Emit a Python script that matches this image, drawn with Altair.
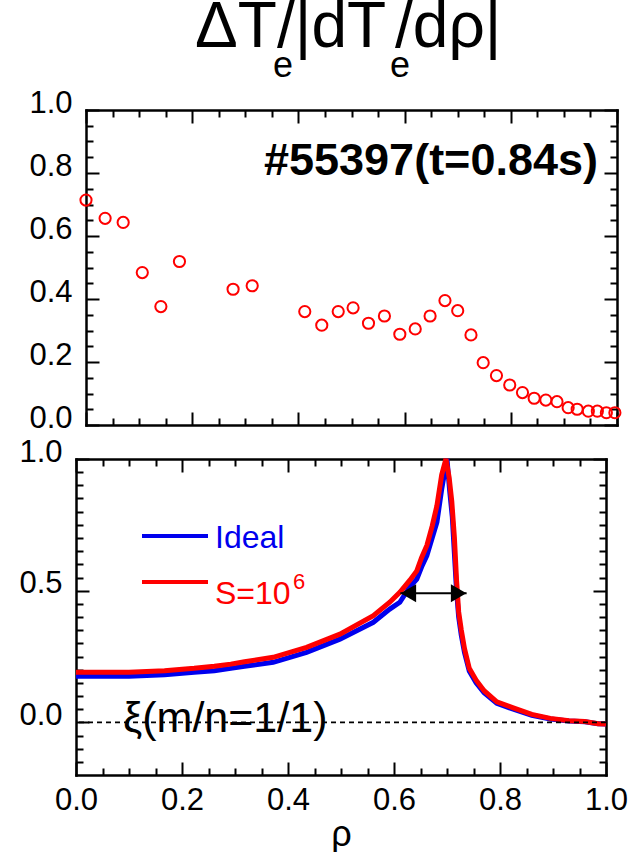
import altair as alt
import pandas as pd

FONT = "Liberation Sans"
RED = "#FF0000"
BLUE = "#0000EE"

# ---------------- data ----------------
# top panel: Delta Te / |dTe/drho| (experiment)
rho_exp = [0.000, 0.036, 0.070, 0.106, 0.141, 0.176, 0.277, 0.313, 0.412, 0.444,
           0.475, 0.503, 0.532, 0.562, 0.591, 0.620, 0.648, 0.676, 0.700, 0.725,
           0.748, 0.773, 0.798, 0.822, 0.844, 0.866, 0.887, 0.908, 0.925, 0.946,
           0.963, 0.980, 0.996]
ratio_exp = [0.714, 0.656, 0.643, 0.484, 0.376, 0.519, 0.431, 0.442, 0.360, 0.317,
             0.360, 0.372, 0.323, 0.346, 0.288, 0.305, 0.346, 0.395, 0.363, 0.286,
             0.198, 0.157, 0.127, 0.103, 0.085, 0.079, 0.074, 0.055, 0.050, 0.044,
             0.044, 0.039, 0.039]

# bottom panel: displacement xi (m/n=1/1)
rho_ideal = [0.000, 0.100, 0.167, 0.223, 0.261, 0.292, 0.318, 0.372, 0.435, 0.498,
             0.561, 0.592, 0.611, 0.630, 0.643, 0.652, 0.662, 0.672, 0.681, 0.690,
             0.700, 0.705, 0.710, 0.714, 0.718, 0.722, 0.727, 0.733, 0.742, 0.755,
             0.770, 0.794, 0.825, 0.860, 0.895, 0.930, 0.960, 0.985, 1.000]
xi_ideal = [0.175, 0.175, 0.181, 0.190, 0.196, 0.205, 0.213, 0.228, 0.266, 0.316,
            0.380, 0.430, 0.456, 0.515, 0.544, 0.590, 0.633, 0.700, 0.760, 0.886,
            1.000, 0.880, 0.780, 0.640, 0.500, 0.400, 0.330, 0.265, 0.195, 0.150,
            0.112, 0.072, 0.050, 0.027, 0.013, 0.005, 0.002, -0.005, -0.006]
rho_res = [0.000, 0.100, 0.167, 0.223, 0.261, 0.292, 0.318, 0.372, 0.435, 0.498,
           0.561, 0.592, 0.611, 0.630, 0.643, 0.652, 0.662, 0.672, 0.681, 0.690,
           0.698, 0.704, 0.709, 0.714, 0.718, 0.722, 0.727, 0.733, 0.742, 0.755,
           0.770, 0.794, 0.825, 0.860, 0.895, 0.930, 0.960, 0.985, 1.000]
xi_res = [0.190, 0.190, 0.196, 0.205, 0.213, 0.221, 0.230, 0.247, 0.285, 0.335,
          0.405, 0.456, 0.494, 0.540, 0.575, 0.625, 0.672, 0.745, 0.823, 0.940,
          1.000, 0.930, 0.840, 0.700, 0.540, 0.420, 0.350, 0.280, 0.205, 0.160,
          0.120, 0.078, 0.055, 0.030, 0.015, 0.006, 0.003, -0.005, -0.006]

arrow_rho = [0.612, 0.737]
arrow_level = [0.49]
zero_level = [0.0]

# tick values
x_major = [0.0, 0.2, 0.4, 0.6, 0.8, 1.0]
x_minor = [round(i * 0.05, 2) for i in range(21) if i % 4 != 0]
top_y_major = [0.0, 0.2, 0.4, 0.6, 0.8, 1.0]
top_y_minor = [round(i * 0.05, 2) for i in range(21) if i % 4 != 0]
bot_y_major = [0.0, 0.5, 1.0]
bot_y_minor = [round(i * 0.05, 2) for i in range(-3, 20) if i % 10 != 0]

# ---------------- layout constants ----------------
SHIFT = 10          # top panel sits 10 px to the right of the bottom one
W_TOP = 531
W_BOT = 530
H_TOP = 315
H_BOT = 316
MAJ = {"expr": "-13"}
MIN = {"expr": "-7"}
ONE = alt.Data(values=[{}])


def axis_kw(orient, values, size, domain, offset):
    kw = dict(orient=orient, values=values, tickSize=size, tickWidth=2,
              tickColor="black", grid=False, title=None, minExtent=0,
              domain=domain)
    if domain:
        kw.update(domainColor="black", domainWidth=2.5, domainCap="square")
    if offset:
        kw["offset"] = offset
    return kw


def tick_axis(orient, values, size, domain=False, offset=0):
    return alt.Axis(labels=False, **axis_kw(orient, values, size, domain, offset))


def label_axis_y(values, offset=0):
    return alt.Axis(labels=True, format=".1f", labelFont=FONT, labelFontSize=31,
                    labelColor="black", labelPadding=27, labelOffset=-7,
                    labelOverlap=False,
                    **axis_kw("left", values, MAJ, True, offset))


def text(s, x, y, size, color="black", weight="normal", align="left"):
    return alt.Chart(ONE).mark_text(
        text=s, font=FONT, fontSize=size, color=color, fontWeight=weight,
        align=align, baseline="alphabetic"
    ).encode(x=alt.value(x), y=alt.value(y))


# ---------------- top panel ----------------
top_df = pd.DataFrame({"rho": rho_exp, "ratio": ratio_exp})
xs_top = alt.Scale(domain=[0, 1], nice=False, zero=False, range=[SHIFT, SHIFT + W_TOP])
ys_top = alt.Scale(domain=[0, 1], nice=False, zero=False)


def top_layer(xaxis, yaxis, opacity):
    return alt.Chart(top_df).mark_point(
        shape="circle", filled=False, color=RED, strokeWidth=2, size=125,
        opacity=opacity
    ).encode(
        x=alt.X("rho:Q", scale=xs_top, axis=xaxis),
        y=alt.Y("ratio:Q", scale=ys_top, axis=yaxis),
    )


top = alt.layer(
    top_layer(tick_axis("bottom", x_major, MAJ, domain=True),
              label_axis_y(top_y_major, offset=-SHIFT), 1),
    top_layer(tick_axis("bottom", x_minor, MIN),
              tick_axis("left", top_y_minor, MIN, offset=-SHIFT), 0),
    top_layer(tick_axis("top", x_major, MAJ, domain=True),
              tick_axis("right", top_y_major, MAJ, domain=True), 0),
    top_layer(tick_axis("top", x_minor, MIN), tick_axis("right", top_y_minor, MIN), 0),
    text("ΔT", 119, -63, 64),
    text("e", 197, -33, 36),
    text("/|dT", 201, -63, 64),
    text("e", 314, -33, 36),
    text("/dρ|", 319, -63, 64),
    text("#55397(t=0.84s)", 522, 65, 45, weight="bold", align="right"),
).resolve_axis(x="independent", y="independent").properties(
    width=SHIFT + W_TOP, height=H_TOP)

# ---------------- bottom panel ----------------
ideal_df = pd.DataFrame({"rho": rho_ideal, "xi": xi_ideal})
res_df = pd.DataFrame({"rho": rho_res, "xi": xi_res})
xs_bot = alt.Scale(domain=[0, 1], nice=False, zero=False)
ys_bot = alt.Scale(domain=[-0.2, 1.0], nice=False, zero=False)

x_label_axis = alt.Axis(labels=True, format=".1f", labelFont=FONT, labelFontSize=31,
                        labelColor="black", labelPadding=23, labelFlush=False,
                        labelOverlap=False, **{**axis_kw("bottom", x_major, MAJ, True, 0),
                                               "title": "ρ"},
                        titleFont=FONT, titleFontSize=36, titleFontWeight="normal",
                        titleColor="black", titlePadding=2)

blue_line = alt.Chart(ideal_df).mark_line(color=BLUE, strokeWidth=5).encode(
    x=alt.X("rho:Q", scale=xs_bot, axis=x_label_axis),
    y=alt.Y("xi:Q", scale=ys_bot, axis=label_axis_y(bot_y_major)),
)
red_line = alt.Chart(res_df).mark_line(color=RED, strokeWidth=5).encode(
    x=alt.X("rho:Q", scale=xs_bot, axis=None),
    y=alt.Y("xi:Q", scale=ys_bot, axis=None),
)


def bot_ticks(xaxis, yaxis):
    return alt.Chart(ideal_df).mark_point(opacity=0).encode(
        x=alt.X("rho:Q", scale=xs_bot, axis=xaxis),
        y=alt.Y("xi:Q", scale=ys_bot, axis=yaxis),
    )


zero_df = pd.DataFrame({"y": zero_level})
zero_rule = alt.Chart(zero_df).mark_rule(
    color="black", strokeWidth=1.8, strokeDash=[5, 4]
).encode(y=alt.Y("y:Q", scale=ys_bot, axis=None))

arrow_df = pd.DataFrame({"x": [arrow_rho[0]], "x2": [arrow_rho[1]], "y": arrow_level})
arrow_shaft = alt.Chart(arrow_df).mark_rule(color="black", strokeWidth=2).encode(
    x=alt.X("x:Q", scale=xs_bot, axis=None),
    x2="x2:Q",
    y=alt.Y("y:Q", scale=ys_bot, axis=None),
)
head_left = alt.Chart(arrow_df).mark_point(
    shape="triangle-left", filled=True, color="black", size=320, opacity=1, xOffset=8
).encode(x=alt.X("x:Q", scale=xs_bot, axis=None), y=alt.Y("y:Q", scale=ys_bot, axis=None))
head_right = alt.Chart(arrow_df).mark_point(
    shape="triangle-right", filled=True, color="black", size=320, opacity=1, xOffset=-8
).encode(x=alt.X("x2:Q", scale=xs_bot, axis=None), y=alt.Y("y:Q", scale=ys_bot, axis=None))

legend_blue = alt.Chart(ONE).mark_rule(color=BLUE, strokeWidth=4).encode(
    x=alt.value(66), x2=alt.value(132), y=alt.value(77))
legend_red = alt.Chart(ONE).mark_rule(color=RED, strokeWidth=4).encode(
    x=alt.value(66), x2=alt.value(132), y=alt.value(123))

bottom = alt.layer(
    blue_line,
    red_line,
    bot_ticks(tick_axis("bottom", x_minor, MIN), tick_axis("left", bot_y_minor, MIN)),
    bot_ticks(tick_axis("top", x_major, MAJ, domain=True),
              tick_axis("right", bot_y_major, MAJ, domain=True)),
    bot_ticks(tick_axis("top", x_minor, MIN), tick_axis("right", bot_y_minor, MIN)),
    text("ξ(m/n=1/1)", 47, 273, 43),
    zero_rule,
    arrow_shaft,
    head_left,
    head_right,
    legend_blue,
    legend_red,
    text("Ideal", 139, 89, 32, color=BLUE),
    text("S=10", 139, 145, 32, color=RED),
    text("6", 217, 130, 22, color=RED),
).resolve_axis(x="independent", y="independent").properties(width=W_BOT, height=H_BOT)

chart = alt.vconcat(top, bottom, spacing=3).configure_view(
    stroke="transparent", strokeWidth=0
).properties(
    padding={"left": 18, "top": -4, "right": 0, "bottom": 0},
    background="white",
)

chart.save("out.html", embed_options={"renderer": "svg", "actions": False})
